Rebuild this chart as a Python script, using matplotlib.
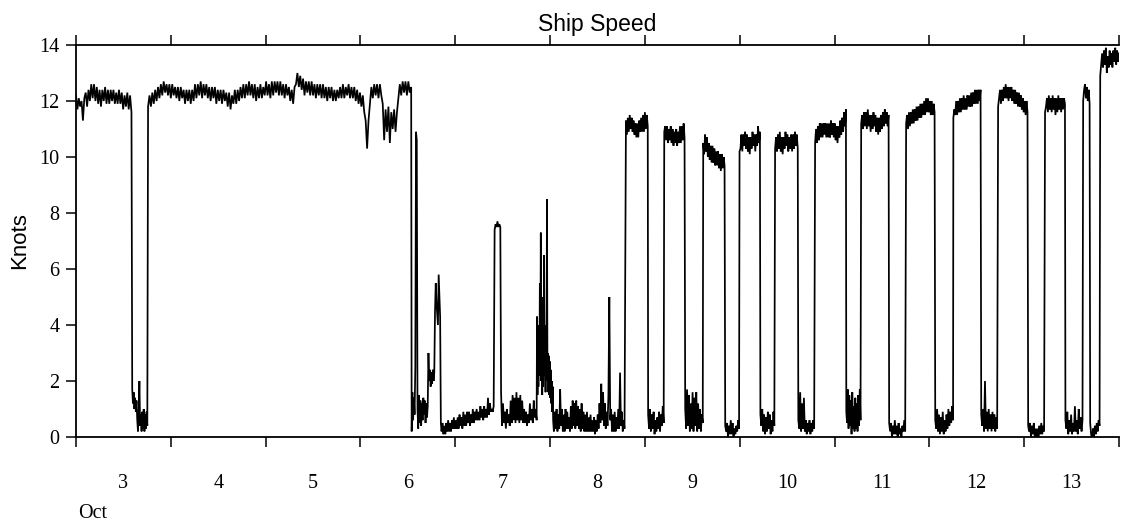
import matplotlib
matplotlib.use("Agg")
import matplotlib.pyplot as plt
import numpy as np

# ---------------- data (day of October, speed in knots) ----------------
day_labels = ["3", "4", "5", "6", "7", "8", "9", "10", "11", "12", "13"]
y_ticks = [0, 2, 4, 6, 8, 10, 12, 14]

# segment boundaries (day of October)
seg_start_day = [3.000, 3.593, 3.760, 6.540, 6.855, 7.415, 7.483, 7.862, 8.040,
                 8.800, 9.034, 9.204, 9.425, 9.615, 9.847, 9.998, 10.218, 10.373,
                 10.618, 10.795, 11.124, 11.281, 11.576, 11.755, 12.062, 12.253,
                 12.547, 12.725, 13.042, 13.220, 13.435, 13.622, 13.696, 13.802]
seg_end_day = [3.585, 3.752, 6.535, 6.848, 7.405, 7.475, 7.858, 8.032, 8.785,
               9.030, 9.198, 9.418, 9.610, 9.840, 9.993, 10.213, 10.365, 10.612,
               10.785, 11.120, 11.274, 11.570, 11.745, 12.055, 12.250, 12.540,
               12.715, 13.035, 13.210, 13.430, 13.615, 13.690, 13.795, 14.000]

cruise_oct3 = [12.2, 11.7, 12.1, 11.8, 12.0, 11.3, 12.1, 12.3, 11.8, 12.4,
               12.0, 12.6, 12.1, 12.6, 12.0, 12.5, 11.9, 12.4, 11.8, 12.4,
               12.0, 12.5, 11.9, 12.4, 11.9, 12.4, 12.0, 12.4, 11.9, 12.3,
               11.9, 12.4, 11.9, 12.3, 11.7, 12.2, 11.8, 12.3, 11.7, 12.2, 11.6]
stop_oct3 = [1.7, 1.2, 1.6, 1.0, 1.4, 0.9, 1.3, 0.6, 0.2, 0.9,
             2.0, 0.4, 0.8, 0.2, 0.9, 0.3, 1.0, 0.2, 0.8, 0.3, 0.9, 0.4]
cruise_oct4_6 = [11.8, 12.2, 11.8, 12.3, 11.9, 12.4, 12.0, 12.5, 12.1, 12.6,
                 12.2, 12.7, 12.3, 12.6, 12.2, 12.6, 12.1, 12.6, 12.2, 12.5,
                 12.1, 12.5, 12.0, 12.5, 12.1, 12.4, 11.9, 12.4, 12.0, 12.4,
                 11.9, 12.4, 12.0, 12.6, 12.1, 12.6, 12.2, 12.7, 12.1, 12.6,
                 12.2, 12.6, 12.1, 12.5, 12.0, 12.5, 12.1, 12.5, 11.9, 12.4,
                 12.0, 12.4, 11.9, 12.4, 12.0, 12.3, 11.8, 12.3, 11.7, 12.2,
                 11.9, 12.4, 11.9, 12.4, 12.0, 12.5, 12.1, 12.6, 12.1, 12.6,
                 12.2, 12.7, 12.2, 12.6, 12.1, 12.6, 12.0, 12.5, 12.1, 12.6,
                 12.1, 12.5, 12.2, 12.7, 12.2, 12.6, 12.1, 12.7, 12.2, 12.7,
                 12.3, 12.7, 12.2, 12.7, 12.2, 12.6, 12.1, 12.6, 12.2, 12.5,
                 12.0, 12.4, 11.9, 12.5, 12.6, 13.0, 12.5, 12.9, 12.4, 12.8,
                 12.2, 12.7, 12.3, 12.7, 12.2, 12.7, 12.2, 12.6, 12.1, 12.6,
                 12.2, 12.6, 12.1, 12.6, 12.1, 12.5, 12.0, 12.5, 12.1, 12.5,
                 12.0, 12.4, 12.0, 12.4, 12.1, 12.5, 12.1, 12.6, 12.1, 12.5,
                 12.2, 12.6, 12.1, 12.5, 12.1, 12.5, 12.0, 12.4, 11.9, 12.3,
                 11.8, 12.2, 11.6, 11.3, 10.3, 11.3, 11.9, 12.5, 12.1, 12.6,
                 12.2, 12.6, 12.1, 12.6, 12.2, 11.9, 10.6, 11.7, 10.9, 11.8,
                 10.5, 11.6, 11.0, 11.7, 10.9, 11.6, 12.1, 12.6, 12.2, 12.7,
                 12.3, 12.7, 12.2, 12.7, 12.3, 12.5]
station_oct6 = [0.2, 1.6, 0.6, 1.4, 0.8, 2.5, 10.9, 10.6, 1.0, 0.3,
                1.5, 0.5, 1.3, 0.4, 1.2, 0.6, 1.4, 0.8, 1.3, 0.5,
                1.2, 0.7, 1.1, 3.0, 2.0, 2.4, 1.8, 2.3, 1.9, 2.4,
                2.0, 2.3, 4.5, 5.5, 4.8, 4.4, 4.0, 5.8, 5.0, 4.3, 0.5]
drift_oct7 = [0.2, 0.5, 0.1, 0.4, 0.1, 0.5, 0.2, 0.6, 0.2, 0.5,
              0.2, 0.6, 0.3, 0.7, 0.3, 0.6, 0.3, 0.7, 0.3, 0.8,
              0.4, 0.7, 0.3, 0.9, 0.4, 0.8, 0.4, 0.9, 0.5, 0.9,
              0.4, 0.8, 0.5, 1.0, 0.5, 0.9, 0.6, 1.0, 0.6, 0.9,
              0.6, 1.1, 0.7, 1.0, 0.6, 1.1, 0.7, 1.0, 0.7, 1.4,
              0.8, 1.2, 0.9, 1.0, 0.9, 1.1]
transit_oct7 = [7.4, 7.6, 7.5, 7.7, 7.5, 7.6, 7.5]
drift_oct7b = [1.6, 0.4, 1.2, 0.5, 0.9, 0.3, 1.0, 0.5, 0.8, 0.4,
               1.3, 0.5, 1.5, 0.6, 1.4, 0.5, 1.6, 0.6, 1.4, 0.5,
               1.5, 0.6, 1.3, 0.5, 1.0, 0.5, 0.9, 0.4, 0.8, 0.5,
               1.2, 0.6, 1.0, 0.5, 1.3, 0.7, 1.0, 0.6]
manoeuvre_oct7 = [4.3, 1.5, 3.2, 1.8, 4.0, 2.2, 5.5, 2.6, 7.3, 2.0,
                  5.0, 1.5, 3.8, 1.8, 3.0, 6.5, 2.2, 3.2, 1.6, 4.0,
                  2.0, 8.5, 2.5, 3.0, 1.6, 2.9, 1.5, 2.7, 1.4, 2.4,
                  1.2, 2.0, 0.9, 1.8, 0.6]
drift_oct8 = [0.2, 0.9, 0.3, 1.0, 0.2, 0.8, 0.3, 1.7, 0.4, 1.0,
              0.2, 0.8, 0.2, 1.0, 0.3, 0.9, 0.3, 0.7, 0.2, 1.1,
              0.3, 1.3, 0.4, 1.2, 0.3, 1.3, 0.4, 1.1, 0.3, 1.0,
              0.2, 1.2, 0.3, 0.9, 0.2, 0.8, 0.2, 0.9, 0.2, 0.7,
              0.2, 0.8, 0.2, 0.6, 0.2, 0.7, 0.1, 0.6, 0.2, 0.8,
              0.3, 1.2, 0.5, 1.9, 0.6, 1.6, 0.4, 1.2, 0.3, 0.9,
              0.4, 1.5, 5.0, 0.6, 1.0, 0.2, 0.8, 0.2, 0.9, 0.2,
              0.7, 0.3, 1.0, 0.3, 2.3, 0.4, 0.9, 0.2, 0.6, 0.3]
run_01 = [11.3, 10.8, 11.4, 10.9, 11.5, 11.0, 11.4, 10.9, 11.3, 10.8, 11.2, 10.7,
          11.2, 10.7, 11.3, 10.9, 11.4, 10.9, 11.5, 10.9, 11.6, 11.0, 11.5, 11.1]
stn_01 = [0.8, 0.3, 1.0, 0.2, 0.8, 0.3, 0.9, 0.1, 0.6, 0.2, 0.7, 0.3, 0.9, 0.2,
          0.8, 0.4, 1.1, 0.5]
run_02 = [10.9, 11.1, 10.6, 11.1, 10.5, 11.0, 10.6, 11.1, 10.5, 11.0, 10.4, 10.9,
          10.5, 11.0, 10.4, 10.9, 10.5, 11.1, 10.5, 11.1, 10.6, 11.2, 10.7]
stn_02 = [1.0, 0.3, 1.7, 0.4, 1.5, 0.2, 1.2, 0.3, 1.6, 0.2, 1.4, 0.4, 1.6, 0.2,
          1.2, 0.3, 1.0, 0.2, 0.8, 0.5]
run_03 = [10.5, 10.1, 10.8, 10.2, 10.7, 10.0, 10.5, 9.9, 10.4, 9.8, 10.4, 9.8,
          10.3, 9.7, 10.2, 9.7, 10.2, 9.6, 10.1, 9.5, 10.1, 9.6, 10.0, 9.7]
stn_03 = [0.4, 0.2, 0.5, 0.0, 0.4, 0.1, 0.6, 0.1, 0.5, 0.0, 0.3, 0.1, 0.4, 0.2,
          0.6, 0.3]
run_04 = [10.2, 10.3, 10.8, 10.2, 10.8, 10.4, 10.9, 10.3, 10.8, 10.2, 10.7, 10.1,
          10.7, 10.3, 10.9, 10.4, 10.8, 10.2, 10.8, 10.4, 11.1, 10.5, 10.9]
stn_04 = [0.8, 0.4, 1.0, 0.2, 0.8, 0.1, 0.7, 0.2, 0.9, 0.3, 0.8, 0.1, 0.6, 0.2,
          0.9, 0.4]
run_05 = [10.3, 10.7, 10.2, 10.8, 10.3, 10.9, 10.2, 10.7, 10.1, 10.7, 10.3, 10.9,
          10.4, 10.8, 10.2, 10.7, 10.3, 10.8, 10.2, 10.8, 10.3, 10.9, 10.4, 10.8, 10.3]
stn_05 = [0.6, 0.3, 1.6, 0.2, 1.2, 0.3, 1.4, 0.2, 0.6, 0.1, 0.5, 0.2, 0.6, 0.1,
          0.5, 0.2, 0.6, 0.3]
run_06 = [10.5, 11.0, 10.5, 11.1, 10.6, 11.2, 10.7, 11.2, 10.7, 11.2, 10.8, 11.2,
          10.7, 11.2, 10.7, 11.2, 10.7, 11.3, 10.8, 11.2, 10.7, 11.2, 10.6, 11.1,
          10.5, 11.1, 10.7, 11.3, 10.8, 11.4, 10.9, 11.6, 11.1, 11.7]
stn_06 = [0.9, 0.5, 1.7, 0.3, 1.5, 0.4, 1.3, 0.1, 1.6, 0.3, 1.1, 0.2, 1.4, 0.3,
          1.2, 0.2, 1.5, 0.4, 1.7, 0.6]
run_07 = [11.2, 11.5, 11.0, 11.6, 11.1, 11.6, 11.0, 11.7, 11.1, 11.5, 10.9, 11.5,
          11.0, 11.6, 11.1, 11.5, 10.9, 11.4, 10.8, 11.4, 10.9, 11.5, 11.0, 11.6,
          11.1, 11.7, 11.2, 11.6, 11.1, 11.5]
stn_07 = [0.5, 0.2, 0.5, 0.0, 0.4, 0.1, 0.6, 0.1, 0.4, 0.0, 0.5, 0.1, 0.3, 0.0,
          0.4, 0.2, 0.6, 0.2]
run_08 = [11.2, 11.5, 11.0, 11.6, 11.1, 11.6, 11.2, 11.7, 11.2, 11.7, 11.3, 11.8,
          11.3, 11.8, 11.4, 11.9, 11.4, 11.9, 11.5, 12.0, 11.5, 12.1, 11.6, 12.1,
          11.6, 12.0, 11.5, 12.0, 11.5, 11.9, 11.6]
stn_08 = [0.6, 0.3, 1.0, 0.2, 0.8, 0.1, 0.7, 0.2, 0.9, 0.1, 0.6, 0.2, 0.8, 0.3,
          1.0, 0.4, 0.9, 0.5, 1.1, 0.6]
run_09 = [11.4, 11.7, 11.5, 12.0, 11.5, 12.0, 11.6, 12.1, 11.6, 12.1, 11.7, 12.2,
          11.7, 12.1, 11.7, 12.2, 11.8, 12.2, 11.8, 12.3, 11.8, 12.3, 11.9, 12.4,
          11.9, 12.4, 11.9, 12.4, 12.0, 12.4]
stn_09 = [0.8, 0.4, 1.0, 0.2, 2.0, 0.3, 0.9, 0.2, 1.0, 0.3, 0.8, 0.2, 0.9, 0.3,
          0.8, 0.2, 0.7, 0.3]
run_10 = [11.8, 12.1, 12.4, 11.9, 12.4, 12.0, 12.5, 12.1, 12.6, 12.1, 12.5, 12.0,
          12.5, 12.1, 12.5, 12.0, 12.4, 11.9, 12.4, 11.9, 12.3, 11.8, 12.3, 11.8,
          12.2, 11.7, 12.1, 11.6, 12.0, 11.5, 12.0, 11.6]
stn_10 = [0.4, 0.2, 0.5, 0.0, 0.4, 0.1, 0.5, 0.0, 0.3, -0.05, 0.3, 0.0, 0.4, 0.1,
          0.5, 0.1, 0.4, 0.2]
run_11 = [11.6, 11.8, 12.1, 11.6, 12.2, 11.7, 12.1, 11.6, 12.2, 11.7, 12.1, 11.5,
          12.1, 11.6, 12.2, 11.7, 12.1, 11.6, 12.1, 11.7, 12.1, 11.9]
stn_11 = [0.6, 0.3, 0.9, 0.1, 0.6, 0.2, 0.8, 0.1, 0.5, 0.2, 1.1, 0.2, 0.6, 0.1,
          1.0, 0.3, 0.7, 0.2, 0.6]
run_12 = [12.0, 12.4, 12.6, 12.1, 12.5, 12.0, 12.4, 11.9]
stn_12 = [0.5, 0.1, -0.1, 0.3, 0.0, 0.4, 0.1, 0.5, 0.2, 0.6, 0.4]
run_13 = [12.9, 13.3, 13.7, 13.2, 13.8, 13.3, 13.9, 13.0, 13.6, 13.2, 13.8, 13.3,
          13.7, 13.2, 13.8, 13.4, 13.9, 13.3, 13.8, 13.4, 13.7]

segments = [cruise_oct3, stop_oct3, cruise_oct4_6, station_oct6, drift_oct7,
            transit_oct7, drift_oct7b, manoeuvre_oct7, drift_oct8,
            run_01, stn_01, run_02, stn_02, run_03, stn_03, run_04, stn_04,
            run_05, stn_05, run_06, stn_06, run_07, stn_07, run_08, stn_08,
            run_09, stn_09, run_10, stn_10, run_11, stn_11, run_12, stn_12, run_13]

# ---------------- build series ----------------
t_all, v_all = [], []
for s, e, vals in zip(seg_start_day, seg_end_day, segments):
    t_all.append(np.linspace(s, e, len(vals)))
    v_all.append(np.asarray(vals, dtype=float))
t_all = np.concatenate(t_all)
v_all = np.concatenate(v_all)

# ---------------- figure ----------------
W, H = 1121, 525
fig = plt.figure(figsize=(W / 100, H / 100), dpi=100)
ax = fig.add_axes([76 / W, 1 - 437 / H, (1119 - 76) / W, (437 - 45) / H])

ax.plot(t_all, v_all, color="black", lw=1.25, solid_joinstyle="miter")

ax.set_xlim(3, 14)
ax.set_ylim(0, 14)

serif = "Liberation Serif"
sans = "Liberation Sans"

ax.set_xticks(np.arange(3, 15, 1))
ax.set_xticklabels([])
ax.set_xticks(np.arange(3.5, 14, 1), minor=True)
ax.set_xticklabels(day_labels, minor=True, fontfamily=serif, fontsize=14.5)
ax.tick_params(axis="x", which="major", direction="out", length=7, width=1.1,
               top=True, bottom=True)
ax.tick_params(axis="x", which="minor", length=0, pad=26.5, top=False)

ax.set_yticks(y_ticks)
ax.set_yticklabels([str(v) for v in y_ticks], fontfamily=serif, fontsize=14.5)
ax.tick_params(axis="y", which="major", direction="out", length=7, width=1.1,
               pad=5, left=True, right=False)

for side in ["left", "bottom", "top"]:
    ax.spines[side].set_linewidth(1.3)
ax.spines["right"].set_visible(False)

fig.text(597 / W, 1 - 31 / H, "Ship Speed", ha="center", va="baseline",
         fontfamily=sans, fontsize=16.5)
fig.text(20 / W, 1 - 241 / H, "Knots", ha="center", va="center", rotation=90,
         fontfamily=sans, fontsize=16)
fig.text(78 / W, 1 - 518 / H, "Oct", ha="left", va="baseline",
         fontfamily=serif, fontsize=14.5)

fig.savefig("out.png", dpi=100)
